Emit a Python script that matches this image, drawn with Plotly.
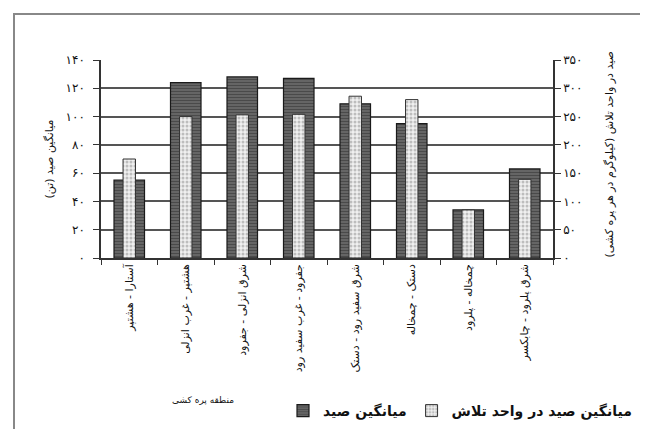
import plotly.graph_objects as go

categories = [
    "آستارا - هشتپر",
    "هشتپر - غرب انزلی",
    "شرق انزلی - جفرود",
    "جفرود - غرب سفید رود",
    "شرق سفید رود - دستک",
    "دستک - چمخاله",
    "چمخاله - پلرود",
    "شرق پلرود - چابکسر",
]
avg_catch = [55, 124, 128, 127, 109, 95, 34, 63]          # tons (left axis)
avg_cpue = [175, 250, 253, 254, 286, 280, 85, 139]        # kg per haul (right axis)

left_ticks = [0, 20, 40, 60, 80, 100, 120, 140]
left_ticktext = ["۰", "۲۰", "۴۰", "۶۰", "۸۰", "۱۰۰", "۱۲۰", "۱۴۰"]
right_ticks = [0, 50, 100, 150, 200, 250, 300, 350]
right_ticktext = ["۰", "۵۰", "۱۰۰", "۱۵۰", "۲۰۰", "۲۵۰", "۳۰۰", "۳۵۰"]

name_catch = "میانگین صید"
name_cpue = "میانگین صید در واحد تلاش"
left_title = "میانگین صید (تن)"
right_title = "صید در واحد تلاش (کیلوگرم در هر پره کشی)"
x_title = "منطقه پره کشی"

FONT = "DejaVu Sans"
OFF = 8                      # page body margin
W, H = 648 - OFF, 429 - OFF
L, R, T, B = 101 - OFF, 553 - OFF, 60 - OFF, 258 - OFF
PW, PH = R - L, B - T

def px(xw):
    return (xw - OFF - L) / PW

def py(yw):
    return (B - (yw - OFF)) / PH

fig = go.Figure()
fig.add_trace(go.Bar(
    x=categories, y=avg_catch, name=name_catch, width=0.54,
    marker=dict(color="#666", line=dict(color="#1a1a1a", width=1.2),
                pattern=dict(shape="-", fgcolor="#2a2a2a", bgcolor="#6a6a6a",
                             size=3, solidity=0.45)),
    yaxis="y",
))
fig.add_trace(go.Bar(
    x=categories, y=avg_cpue, name=name_cpue, width=0.22,
    marker=dict(color="#e8e8e8", line=dict(color="#333", width=1),
                pattern=dict(shape=".", fgcolor="#8a8a8a", bgcolor="#f0f0f0",
                             size=4, solidity=0.45)),
    yaxis="y2",
))

fig.update_layout(
    width=W, height=H,
    margin=dict(l=L, r=W - R, t=T, b=H - B, autoexpand=False),
    paper_bgcolor="white", plot_bgcolor="white",
    barmode="overlay",
    font=dict(family=FONT, color="#222", size=11),
    showlegend=True,
    legend=dict(orientation="h", x=px(283), y=py(411), xanchor="left", yanchor="middle",
                font=dict(family=FONT, size=14, color="#111", weight="bold"),
                itemwidth=30, traceorder="normal", entrywidthmode="pixels"),
    xaxis=dict(
        type="category", tickson="boundaries", ticks="outside", ticklen=5,
        tickcolor="#333", tickangle=-90, showline=True, linecolor="#333", linewidth=1.5,
        tickfont=dict(size=11, family=FONT, color="#111"), showgrid=False,
    ),
    yaxis=dict(
        range=[0, 140], tickvals=left_ticks, ticktext=left_ticktext,
        ticks="outside", ticklen=6, tickcolor="#333", showline=True,
        linecolor="#333", linewidth=1.5, showgrid=True, gridcolor="#555",
        gridwidth=1.5, tickfont=dict(size=12, family=FONT, color="#111"),
        zeroline=False, ticklabelstandoff=6,
    ),
    yaxis2=dict(
        range=[0, 350], tickvals=right_ticks, ticktext=right_ticktext,
        overlaying="y", side="right", ticks="outside", ticklen=6, tickcolor="#333",
        showline=True, linecolor="#333", linewidth=1.5, showgrid=False,
        tickfont=dict(size=12, family=FONT, color="#111"), zeroline=False,
    ),
    annotations=[
        dict(text=left_title, textangle=-90, xref="paper", yref="paper",
             x=px(40), y=0.5, showarrow=False, font=dict(size=11, color="#111")),
        dict(text=right_title, textangle=-90, xref="paper", yref="paper",
             x=px(617), y=py(155), showarrow=False, font=dict(size=11, color="#111")),
        dict(text=x_title, xref="paper", yref="paper",
             x=px(170), y=py(407), showarrow=False, font=dict(size=9, color="#111")),
        # outer frame of the figure
        dict(text=" ", xref="paper", yref="paper", x=px(13), y=py(13),
             xanchor="left", yanchor="top", showarrow=False,
             width=632, height=440, bordercolor="#888", borderwidth=2, borderpad=0),
    ],
)

fig.write_html("out.html")
